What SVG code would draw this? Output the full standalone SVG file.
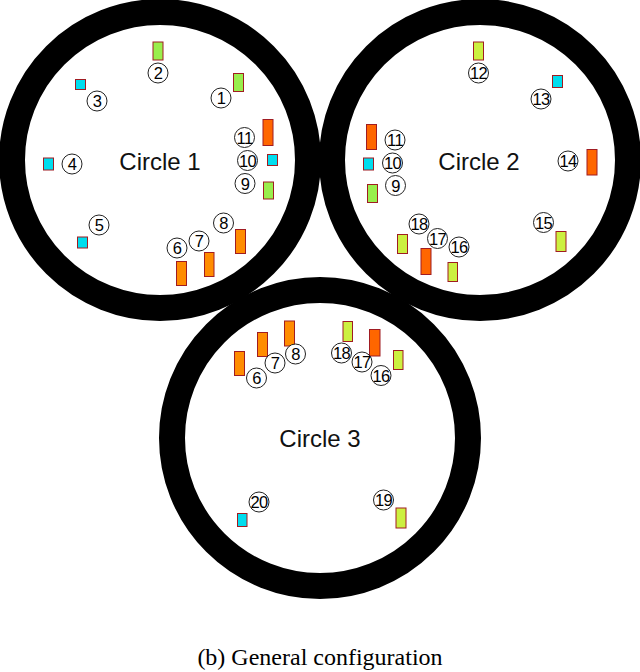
<svg xmlns="http://www.w3.org/2000/svg" width="640" height="672" viewBox="0 0 640 672">
<style>
.ring{fill:none;stroke:#000;stroke-width:26}
.lbl{font-family:"Liberation Sans",Arial,sans-serif;font-size:24px;fill:#111;text-anchor:middle}
.n circle{fill:#fff;stroke:#222;stroke-width:1}
.n text{font-family:"Liberation Sans",Arial,sans-serif;font-size:16.5px;fill:#000;text-anchor:middle;dominant-baseline:central;letter-spacing:-0.6px}
.g{fill:#99ee4c;stroke:#a01c22;stroke-width:1}
.y{fill:#ccf040;stroke:#a01c22;stroke-width:1}
.o{fill:#ff8c00;stroke:#a01c22;stroke-width:1}
.r{fill:#ff6600;stroke:#a01c22;stroke-width:1}
.c{fill:#00ddee;stroke:#a01c22;stroke-width:1}
.cap{font-family:"Liberation Serif","Times New Roman",serif;font-size:24px;fill:#000;text-anchor:middle}
</style>
<rect width="640" height="672" fill="#fff"/>
<g id="circle1">
<circle class="ring" cx="160" cy="160" r="148"/>
<text class="lbl" x="160" y="170">Circle 1</text>
</g>
<g id="circle2">
<circle class="ring" cx="480" cy="160" r="148"/>
<text class="lbl" x="479" y="170">Circle 2</text>
</g>
<g id="circle3">
<circle class="ring" cx="320" cy="438" r="148"/>
<text class="lbl" x="320" y="447">Circle 3</text>
</g>
<g id="connectors"></g>
<g id="items1">
<rect class="g" x="153" y="42" width="10" height="18"/>
<g class="n"><circle cx="158" cy="73" r="10"/><text x="158" y="73">2</text></g>
<rect class="g" x="233.5" y="73.5" width="10" height="18"/>
<g class="n"><circle cx="221" cy="98" r="10"/><text x="221" y="98">1</text></g>
<rect class="c" x="75.5" y="79.5" width="10" height="10"/>
<g class="n"><circle cx="97" cy="101" r="10"/><text x="97" y="101">3</text></g>
<rect class="r" x="263" y="119.5" width="10" height="26"/>
<g class="n"><circle cx="244.5" cy="137.5" r="10"/><text x="244.5" y="137.5">11</text></g>
<rect class="c" x="267.5" y="154.5" width="10" height="11"/>
<g class="n"><circle cx="247.5" cy="160.5" r="10"/><text x="247.5" y="160.5">10</text></g>
<g class="n"><circle cx="245" cy="183.5" r="10"/><text x="245" y="183.5">9</text></g>
<rect class="g" x="263.5" y="182" width="10" height="17"/>
<rect class="c" x="43.5" y="158" width="10" height="12"/>
<g class="n"><circle cx="72" cy="164" r="10"/><text x="72" y="164">4</text></g>
<g class="n"><circle cx="99" cy="225" r="10"/><text x="99" y="225">5</text></g>
<rect class="c" x="77.5" y="237" width="10" height="11"/>
<g class="n"><circle cx="223.5" cy="223" r="10"/><text x="223.5" y="223">8</text></g>
<rect class="o" x="235.5" y="229.5" width="10" height="24"/>
<g class="n"><circle cx="199" cy="241" r="10"/><text x="199" y="241">7</text></g>
<rect class="o" x="204.5" y="252.5" width="9.5" height="24"/>
<g class="n"><circle cx="177" cy="248" r="10"/><text x="177" y="248">6</text></g>
<rect class="o" x="176.5" y="261.5" width="10" height="24"/>
</g>
<g id="items2">
<rect class="y" x="473.5" y="42" width="10" height="18"/>
<g class="n"><circle cx="478.5" cy="73" r="10"/><text x="478.5" y="73">12</text></g>
<rect class="c" x="552.5" y="75.5" width="10" height="12"/>
<g class="n"><circle cx="541" cy="99" r="10"/><text x="541" y="99">13</text></g>
<rect class="r" x="366.5" y="124.5" width="10" height="25"/>
<g class="n"><circle cx="395" cy="140" r="10"/><text x="395" y="140">11</text></g>
<rect class="c" x="363.5" y="158" width="10" height="12"/>
<g class="n"><circle cx="392.5" cy="163" r="10"/><text x="392.5" y="163">10</text></g>
<g class="n"><circle cx="395.5" cy="185.5" r="10"/><text x="395.5" y="185.5">9</text></g>
<rect class="g" x="367.5" y="184.5" width="10" height="18"/>
<g class="n"><circle cx="568" cy="161" r="10"/><text x="568" y="161">14</text></g>
<rect class="r" x="587" y="149.5" width="10" height="25.5"/>
<g class="n"><circle cx="543.5" cy="222.5" r="10"/><text x="543.5" y="222.5">15</text></g>
<rect class="y" x="556" y="231.5" width="10" height="20"/>
<g class="n"><circle cx="419" cy="224" r="10"/><text x="419" y="224">18</text></g>
<rect class="y" x="397.5" y="234.5" width="10" height="19"/>
<g class="n"><circle cx="437.5" cy="238.5" r="10"/><text x="437.5" y="238.5">17</text></g>
<rect class="r" x="421" y="248.5" width="10" height="26"/>
<g class="n"><circle cx="459" cy="247" r="10"/><text x="459" y="247">16</text></g>
<rect class="y" x="448" y="262.5" width="9.5" height="19"/>
</g>
<g id="items3">
<rect class="o" x="234.5" y="351.5" width="10" height="24"/>
<g class="n"><circle cx="256.5" cy="378" r="10"/><text x="256.5" y="378">6</text></g>
<rect class="o" x="257.5" y="332.5" width="10" height="24"/>
<g class="n"><circle cx="275" cy="363" r="10"/><text x="275" y="363">7</text></g>
<rect class="o" x="284.5" y="321" width="10" height="25"/>
<g class="n"><circle cx="295.5" cy="354" r="10"/><text x="295.5" y="354">8</text></g>
<rect class="y" x="343" y="321.5" width="9.5" height="20"/>
<g class="n"><circle cx="341.5" cy="353" r="10"/><text x="341.5" y="353">18</text></g>
<rect class="r" x="369.5" y="329.5" width="10.5" height="26.5"/>
<g class="n"><circle cx="362" cy="362" r="10"/><text x="362" y="362">17</text></g>
<rect class="y" x="393.5" y="350.5" width="9.5" height="19"/>
<g class="n"><circle cx="381" cy="375.5" r="10"/><text x="381" y="375.5">16</text></g>
<g class="n"><circle cx="259" cy="502" r="10"/><text x="259" y="502">20</text></g>
<rect class="c" x="237.5" y="513.5" width="9.5" height="13"/>
<g class="n"><circle cx="383.5" cy="500" r="10"/><text x="383.5" y="500">19</text></g>
<rect class="y" x="396" y="508" width="10" height="20"/>
</g>
<text class="cap" x="320" y="665">(b) General configuration</text>
</svg>
